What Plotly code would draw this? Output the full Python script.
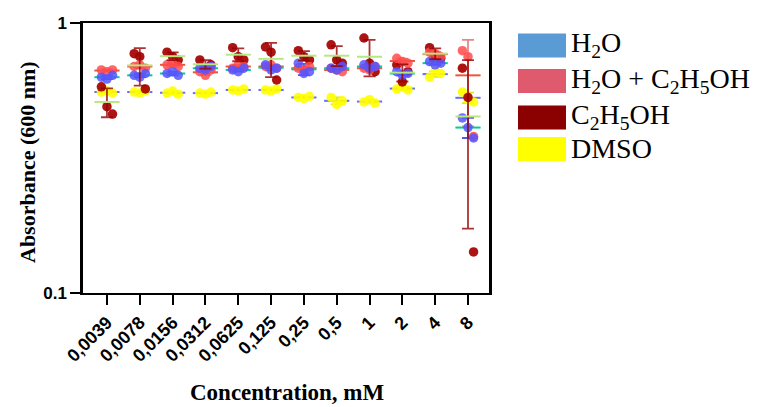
import numpy as np
import plotly.graph_objects as go

categories = ["0,0039", "0,0078", "0,0156", "0,0312", "0,0625", "0,125",
              "0,25", "0,5", "1", "2", "4", "8"]

h2o = [[0.63, 0.62, 0.64], [0.64, 0.63, 0.65], [0.65, 0.66, 0.64], [0.68, 0.67, 0.69],
       [0.67, 0.66, 0.68], [0.70, 0.67, 0.68], [0.71, 0.65, 0.66], [0.68, 0.67, 0.69],
       [0.70, 0.68, 0.69], [0.66, 0.64, 0.65], [0.72, 0.70, 0.71], [0.445, 0.41, 0.375]]
h2o_etoh = [[0.67, 0.66, 0.67], [0.69, 0.70, 0.68], [0.70, 0.71, 0.69], [0.66, 0.64, 0.67],
            [0.68, 0.70, 0.69], [0.69, 0.70, 0.68], [0.68, 0.67, 0.69], [0.68, 0.67, 0.66],
            [0.68, 0.67, 0.69], [0.74, 0.72, 0.71], [0.78, 0.77, 0.75], [0.79, 0.75, 0.38]]
etoh = [[0.58, 0.49, 0.46], [0.77, 0.75, 0.57], [0.78, 0.75, 0.73], [0.73, 0.68, 0.70],
        [0.81, 0.75, 0.73], [0.815, 0.78, 0.615], [0.79, 0.75, 0.73], [0.83, 0.73, 0.71],
        [0.88, 0.71, 0.66], [0.70, 0.605, 0.66], [0.81, 0.76, 0.74], [0.68, 0.53, 0.142]]
dmso = [[0.555, 0.56, 0.55], [0.555, 0.55, 0.56], [0.55, 0.56, 0.545], [0.55, 0.545, 0.555],
        [0.565, 0.56, 0.57], [0.565, 0.56, 0.57], [0.53, 0.525, 0.535], [0.53, 0.50, 0.515],
        [0.51, 0.52, 0.505], [0.57, 0.58, 0.565], [0.63, 0.66, 0.65], [0.555, 0.52, 0.51]]

series_names = ["H<sub>2</sub>O", "H<sub>2</sub>O + C<sub>2</sub>H<sub>5</sub>OH",
                "C<sub>2</sub>H<sub>5</sub>OH", "DMSO"]
series_data = [h2o, h2o_etoh, etoh, dmso]
point_colors = ["rgba(85,85,255,0.85)", "rgba(255,75,75,0.85)", "rgba(165,0,0,0.92)", "rgba(255,255,0,0.9)"]
bar_colors = ["rgba(70,70,230,0.9)", "rgba(215,70,70,0.65)", "rgba(150,0,0,0.8)", "rgba(225,225,0,0.9)"]
legend_colors = ["#5b9bd5", "#e05a6e", "#8b0000", "#ffff00"]

jitter = [-0.17, 0.0, 0.17]
draw_order = [3, 2, 1, 0]


def mean_trace(si):
    data = series_data[si]
    means = [float(np.mean(v)) for v in data]
    sds = [float(np.std(v, ddof=1)) for v in data]
    return go.Scatter(x=list(range(len(categories))), y=means, mode="markers", showlegend=False,
                      marker=dict(symbol="line-ew-open", size=18,
                                  line=dict(width=2, color=bar_colors[si])),
                      error_y=dict(type="data", array=sds, visible=True,
                                   color=bar_colors[si], thickness=1.8, width=6),
                      hoverinfo="y")


fig = go.Figure()
# mean +/- SD of the lighter series sit beneath the points
for si in [3, 1, 0]:
    fig.add_trace(mean_trace(si))
for si in draw_order:
    data = series_data[si]
    xs, ys = [], []
    for gi, vals in enumerate(data):
        for k, v in enumerate(vals):
            xs.append(gi + jitter[k])
            ys.append(v)
    fig.add_trace(go.Scatter(x=xs, y=ys, mode="markers", showlegend=False,
                             marker=dict(size=9.5, color=point_colors[si], line=dict(width=0)),
                             hoverinfo="y"))
fig.add_trace(mean_trace(2))

# The page body adds an 8 px offset; target plot area (in window px): x 83..489, y 23..293
OFF = 8
L, T, PW, PH = 83 - OFF, 23 - OFF, 406, 270
W, H = 767, 407


def px(xp):
    return (xp - 83) / PW


def py(yp):
    return (293 - yp) / PH


shapes = []
annotations = []
legend_y = [45.5, 81, 117.5, 149]
for i, name in enumerate(series_names):
    yc = legend_y[i]
    shapes.append(dict(type="rect", xref="paper", yref="paper",
                       x0=px(518), x1=px(566), y0=py(yc + 12), y1=py(yc - 12),
                       fillcolor=legend_colors[i], line=dict(width=0)))
    annotations.append(dict(xref="paper", yref="paper", x=px(569), y=py(yc - 1), xanchor="left",
                            yanchor="middle", showarrow=False, text=name,
                            font=dict(family="Liberation Serif", size=28, color="black")))

annotations.append(dict(xref="paper", yref="paper", x=px(287), y=py(393), xanchor="center",
                        yanchor="middle", showarrow=False, text="<b>Concentration, mM</b>",
                        font=dict(family="Liberation Serif", size=23, color="black")))
annotations.append(dict(xref="paper", yref="paper", x=px(27), y=py(162), xanchor="center",
                        yanchor="middle", showarrow=False, text="<b>Absorbance (600 nm)</b>",
                        textangle=-90,
                        font=dict(family="Liberation Serif", size=22, color="black")))

fig.update_layout(
    width=W, height=H,
    margin=dict(l=L, r=W - L - PW, t=T, b=H - T - PH, pad=0),
    paper_bgcolor="white", plot_bgcolor="white",
    shapes=shapes, annotations=annotations,
    xaxis=dict(range=[-0.73, 11.64], tickvals=list(range(len(categories))), ticktext=categories,
               tickangle=-45, ticks="outside", ticklen=10, tickwidth=2, tickcolor="black",
               showline=True, linewidth=2, linecolor="black", mirror=True, showgrid=False,
               zeroline=False, automargin=False,
               tickfont=dict(family="Liberation Sans", size=18, color="black", weight="bold")),
    yaxis=dict(type="log", range=[-1, 0], tickvals=[0.1, 1], ticktext=["0.1", "1"],
               ticks="outside", ticklen=10, tickwidth=2, tickcolor="black",
               showline=True, linewidth=2.5, linecolor="black", mirror=True, showgrid=False,
               zeroline=False, automargin=False,
               tickfont=dict(family="Liberation Sans", size=17, color="black", weight="bold")),
)

fig.write_html("out.html")
